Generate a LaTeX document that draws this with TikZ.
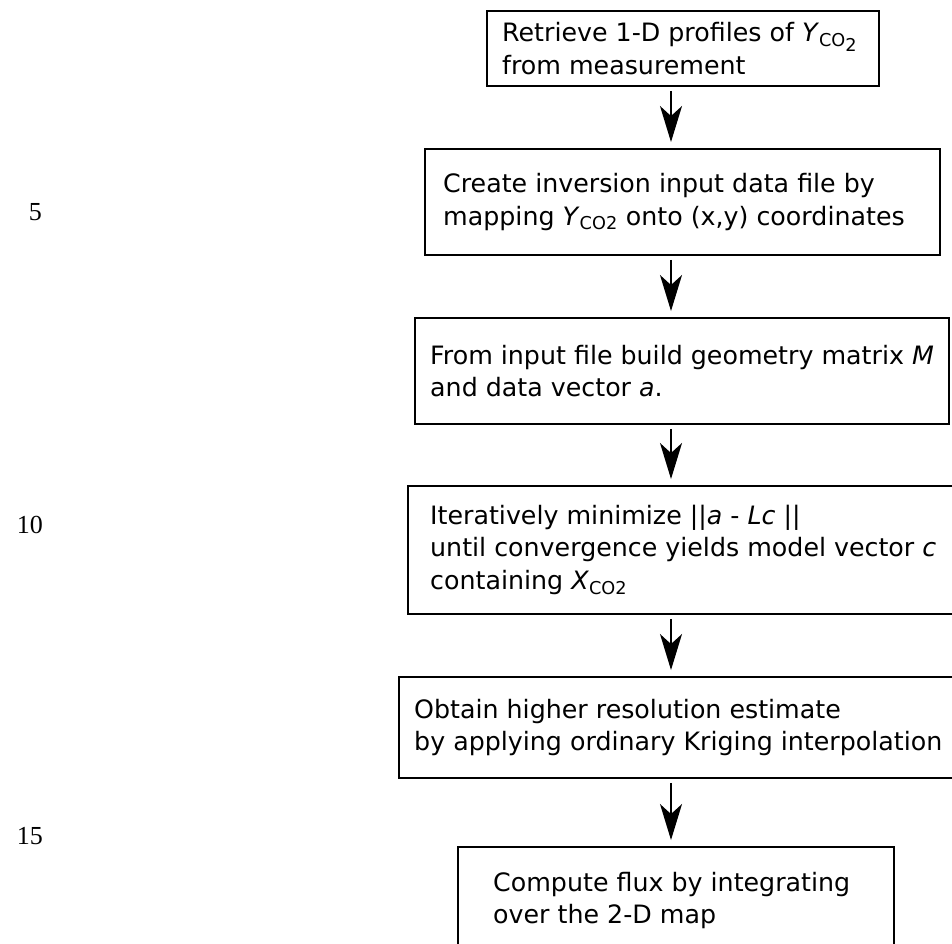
\documentclass[tikz,border=0pt]{standalone}
\usepackage{fontspec}
\setmainfont{DejaVu Sans}[ItalicFont={DejaVu Sans Oblique}]
\newfontfamily\numfont{Liberation Serif}
\usetikzlibrary{arrows.meta}
\begin{document}
\begin{tikzpicture}[x=1pt,y=-1pt,
  boxshape/.style={draw, line width=1.9pt, anchor=north west, inner sep=0pt},
  boxtext/.style={anchor=west, align=left, inner sep=0pt, font=\fontsize{25.3}{32.5}\selectfont},
  arr/.style={-{Stealth[length=36pt,width=22pt,inset=10pt]}, line width=1.4pt, shorten <=4pt, shorten >=6pt},
  lnum/.style={anchor=east, inner sep=0pt, font=\numfont\fontsize{26}{30}\selectfont}]
\useasboundingbox (0,0) rectangle (952,943);
\clip (0,0) rectangle (952,943);
\fill[white] (0,0) rectangle (952,943);
% boxes
\node[boxshape, minimum width=392pt, minimum height=75pt] (b1) at (486,10) {};
\node[boxshape, minimum width=515pt, minimum height=106pt] (b2) at (424,148) {};
\node[boxshape, minimum width=534pt, minimum height=106pt] (b3) at (414,317) {};
\node[boxshape, minimum width=600pt, minimum height=128pt] (b4) at (407,485) {};
\node[boxshape, minimum width=600pt, minimum height=101pt] (b5) at (398,676) {};
\node[boxshape, minimum width=436pt, minimum height=107pt] (b6) at (457,846) {};
% texts
\node[boxtext] (t1) at ([xshift=16pt]b1.west) {Retrieve 1-D profiles of \textit{Y}\textsubscript{CO\raisebox{-0.3em}{2}}\\from measurement};
\node[boxtext] (t2) at ([xshift=19pt]b2.west) {Create inversion input data file by\\mapping \textit{Y}\textsubscript{CO2} onto (x,y) coordinates};
\node[boxtext] (t3) at ([xshift=16pt]b3.west) {From input file build geometry matrix \textit{M}\\and data vector \textit{a}.};
\node[boxtext] (t4) at ([xshift=23pt]b4.west) {Iteratively minimize ||\textit{a} - \textit{Lc} ||\\until convergence yields model vector \textit{c}\\containing \textit{X}\textsubscript{CO2}};
\node[boxtext] (t5) at ([xshift=16pt]b5.west) {Obtain higher resolution estimate\\by applying ordinary Kriging interpolation};
\node[boxtext] (t6) at ([xshift=36pt]b6.west) {Compute flux by integrating\\over the 2-D map};
% arrows
\coordinate (ax) at (671,0);
\draw[arr] (b1.south -| ax) -- (b2.north -| ax);
\draw[arr] (b2.south -| ax) -- (b3.north -| ax);
\draw[arr] (b3.south -| ax) -- (b4.north -| ax);
\draw[arr] (b4.south -| ax) -- (b5.north -| ax);
\draw[arr] (b5.south -| ax) -- (b6.north -| ax);
% line numbers
\node[lnum] (n5) at (42,212) {5};
\node[lnum] (n10) at (43,525) {10};
\node[lnum] (n15) at (43,836) {15};
\end{tikzpicture}
\end{document}
